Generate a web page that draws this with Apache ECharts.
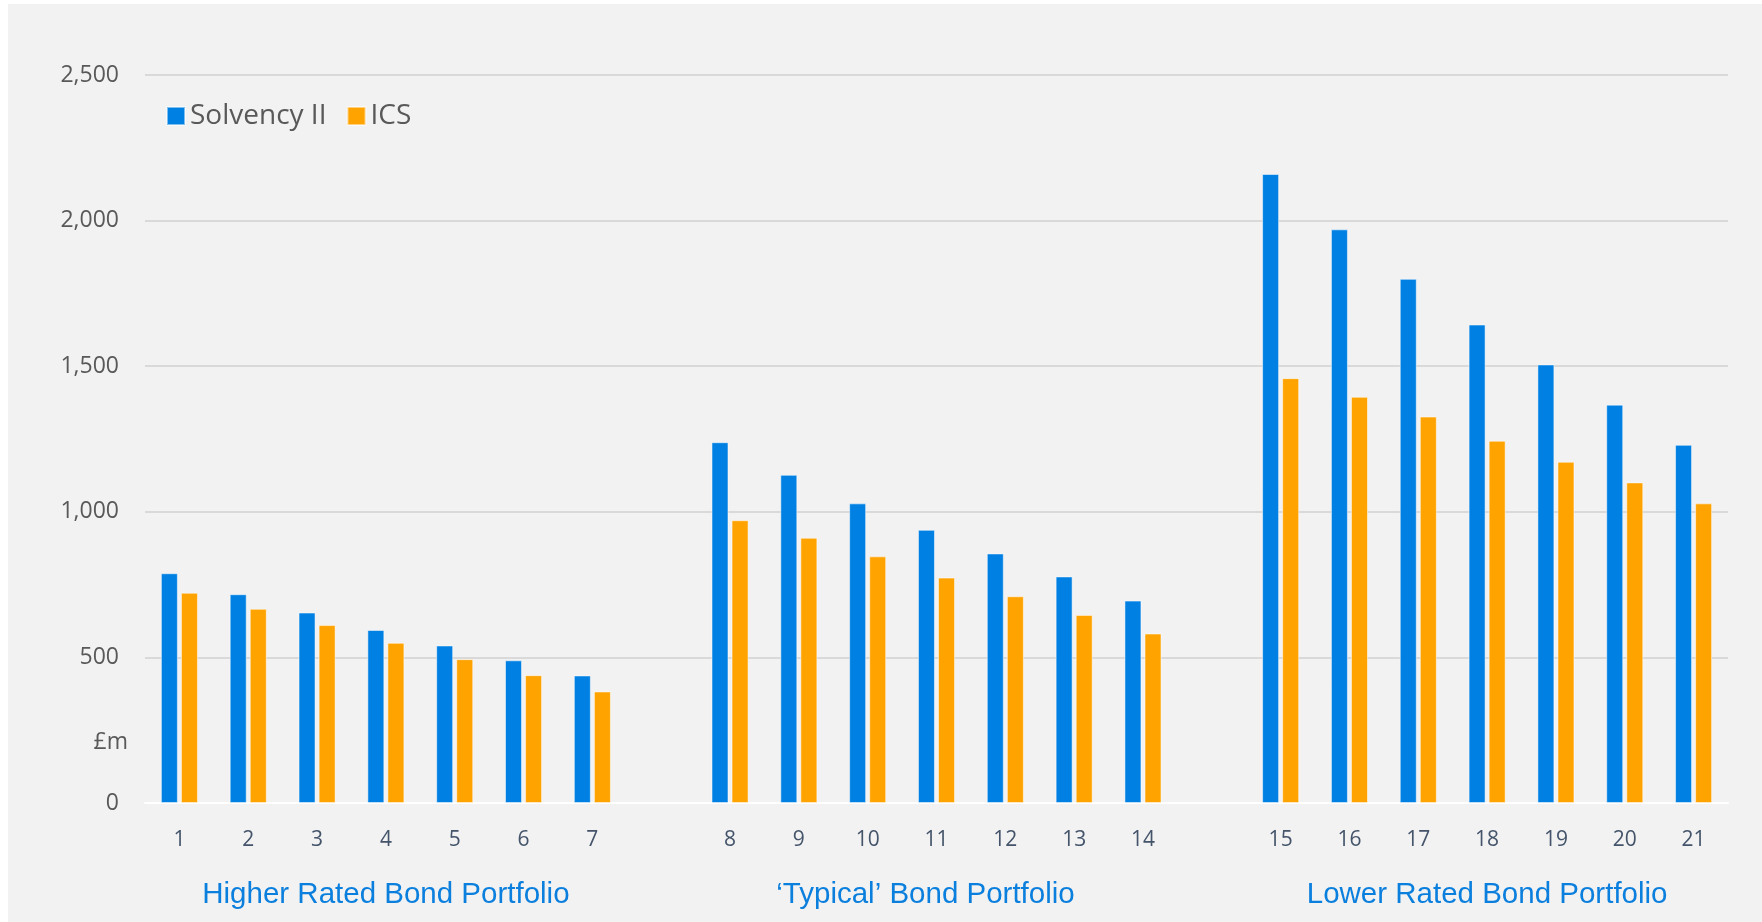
<!DOCTYPE html>
<html>
<head>
<meta charset="utf-8">
<script src="https://cdn.jsdelivr.net/npm/echarts@6/dist/echarts.min.js"></script>
<style>
  html, body { margin: 0; padding: 0; background: #ffffff; }
  #bg { position: absolute; left: 8px; top: 4px; right: 0; bottom: 0; background: #f2f2f2; }
  #chart { position: absolute; left: 0; top: 0; width: 1762px; height: 922px; }
</style>
</head>
<body>
<div id="bg"></div>
<div id="chart"></div>
<script>
// 23 slots: portfolios 1-21 with an empty slot between each group
const categories = ["1","2","3","4","5","6","7","",
  "8","9","10","11","12","13","14","",
  "15","16","17","18","19","20","21"];
const solvency = [789, 717, 654, 594, 541, 490, 438, null,
  1239, 1127, 1029, 938, 857, 778, 695, null,
  2160, 1970, 1800, 1643, 1506, 1368, 1230];
const ics = [722, 667, 611, 550, 494, 439, 383, null,
  971, 911, 847, 774, 710, 646, 582, null,
  1459, 1395, 1327, 1244, 1172, 1101, 1029];
const groupLabels = ["", "", "", "Higher Rated Bond Portfolio", "", "", "", "",
  "", "", "", "\u2018Typical\u2019 Bond Portfolio", "", "", "", "",
  "", "", "", "Lower Rated Bond Portfolio", "", "", ""];
const yTicks = [0, 500, 1000, 1500, 2000, 2500];

const tickFont = "'Open Sans', sans-serif";

let chart;

const initChart = () => {
  chart = echarts.init(document.getElementById("chart"));
  // the 'Typical' label sits a little left of its group centre
  const groupData = groupLabels.map((g, i) =>
    i === 11 ? { value: g, textStyle: { padding: [0, 22, 0, 0] } } : g);
  chart.setOption({
    backgroundColor: "transparent",
    animation: false,
    grid: { left: 145, right: 34, top: 75, bottom: 119 },
    legend: {
      data: ["Solvency II", "ICS"],
      left: 166, top: 102, padding: 0,
      itemWidth: 18, itemHeight: 18, itemGap: 20,
      icon: "rect",
      textStyle: { fontFamily: tickFont, fontSize: 28, color: "#595959" }
    },
    xAxis: [{
      type: "category",
      data: categories,
      axisLine: { show: true, lineStyle: { color: "#ffffff", width: 2 } },
      axisTick: { show: false },
      axisLabel: { interval: 0, margin: 27, fontFamily: tickFont, fontSize: 21, color: "#44546A" }
    }, {
      type: "category",
      data: groupData,
      position: "bottom",
      offset: 0,
      axisLine: { show: false },
      axisTick: { show: false },
      axisLabel: { interval: 0, margin: 77, fontFamily: "'Liberation Sans', Arial, sans-serif",
        fontSize: 29.5, color: "#0B7FDD" }
    }],
    yAxis: {
      type: "value",
      min: yTicks[0], max: yTicks[yTicks.length - 1], interval: 500,
      axisLine: { show: false },
      axisTick: { show: false },
      splitLine: { lineStyle: { color: "#D0D0D0", width: 1.5 } },
      axisLabel: {
        margin: 26, fontFamily: tickFont, fontSize: 23, color: "#595959",
        formatter: v => v.toLocaleString("en-GB")
      }
    },
    graphic: [{
      type: "text", right: 1762 - 128, top: 731,
      style: { text: "\u00a3m", font: "23px 'Open Sans', sans-serif", fill: "#595959" }
    }],
    series: [{
      name: "Solvency II", type: "bar", data: solvency,
      barWidth: 17, barGap: "18%",
      itemStyle: { color: "#0180E3", borderColor: "rgba(255,255,255,0.5)", borderWidth: 1 }
    }, {
      name: "ICS", type: "bar", data: ics,
      barWidth: 17,
      itemStyle: { color: "#FFA300", borderColor: "rgba(255,255,255,0.5)", borderWidth: 1 }
    }]
  });
};

document.addEventListener('DOMContentLoaded', function () {
  initChart();
});

window.addEventListener('resize', function () {
  chart.resize();
});
</script>
</body>
</html>
